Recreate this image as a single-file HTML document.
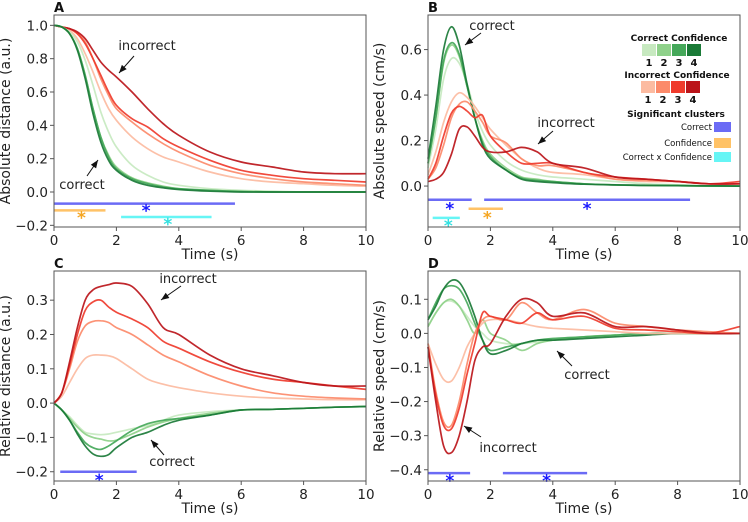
<!DOCTYPE html>
<html><head><meta charset="utf-8"><style>
body{margin:0;background:#fff;}
svg text{font-family:"DejaVu Sans","Liberation Sans",sans-serif;}
</style></head><body>
<svg id="fig" width="748" height="517" viewBox="0 0 748 517" xmlns="http://www.w3.org/2000/svg"></svg>
<script>
const times=[0,0.25,0.5,0.75,1,1.25,1.5,1.75,2,2.5,3,3.5,4,5,6,7,8,9,10];
// Panel A: absolute distance
const aC1=[1,0.99,0.96,0.9,0.79,0.64,0.48,0.36,0.27,0.16,0.1,0.06,0.04,0.02,0.01,0.005,0,0,0];
const aC2=[1,0.99,0.95,0.86,0.7,0.5,0.33,0.22,0.15,0.085,0.055,0.035,0.02,0.01,0.004,0,0,0,0];
const aC3=[1,0.99,0.95,0.86,0.7,0.5,0.33,0.21,0.14,0.08,0.05,0.03,0.02,0.01,0.003,0,0,0,0];
const aC4=[1,0.99,0.95,0.85,0.68,0.47,0.3,0.19,0.13,0.07,0.04,0.025,0.015,0.005,0,0,0,0,0];
const aI1=[1,0.99,0.97,0.92,0.83,0.72,0.6,0.5,0.43,0.33,0.26,0.21,0.18,0.12,0.08,0.06,0.05,0.04,0.035];
const aI2=[1,0.99,0.98,0.95,0.9,0.8,0.68,0.58,0.5,0.42,0.35,0.29,0.24,0.16,0.11,0.08,0.06,0.05,0.04];
const aI3=[1,0.99,0.98,0.95,0.89,0.8,0.7,0.6,0.52,0.44,0.39,0.32,0.27,0.19,0.13,0.1,0.08,0.07,0.06];
const aI4=[1,0.99,0.98,0.96,0.92,0.85,0.78,0.73,0.69,0.6,0.5,0.41,0.34,0.24,0.18,0.15,0.12,0.11,0.11];
// Panel B: absolute speed
const bC1=[0.08,0.25,0.47,0.56,0.54,0.45,0.33,0.24,0.18,0.11,0.07,0.05,0.04,0.03,0.02,0.01,0.005,0,0];
const bC2=[0.1,0.3,0.54,0.62,0.57,0.44,0.3,0.2,0.14,0.08,0.04,0.03,0.02,0.01,0.005,0.003,0.002,0,0];
const bC3=[0.1,0.3,0.55,0.63,0.58,0.44,0.3,0.19,0.13,0.07,0.035,0.025,0.02,0.01,0.005,0.003,0.002,0,0];
const bC4=[0.12,0.35,0.6,0.7,0.62,0.45,0.3,0.18,0.12,0.07,0.03,0.02,0.015,0.008,0.005,0.003,0.002,0.001,0];
const bI1=[0.05,0.15,0.28,0.37,0.41,0.39,0.35,0.3,0.25,0.18,0.12,0.08,0.06,0.05,0.03,0.02,0.02,0.01,0.01];
const bI2=[0.03,0.08,0.18,0.3,0.36,0.37,0.33,0.28,0.22,0.19,0.12,0.09,0.09,0.06,0.03,0.025,0.02,0.01,0.01];
const bI3=[0.03,0.1,0.22,0.32,0.35,0.33,0.3,0.31,0.22,0.15,0.1,0.1,0.1,0.06,0.04,0.03,0.02,0.01,0.02];
const bI4=[0.02,0.03,0.06,0.14,0.25,0.26,0.22,0.17,0.15,0.15,0.17,0.15,0.1,0.08,0.04,0.03,0.02,0.01,0.01];
// Panel C: relative distance
const cC1=[0,-0.02,-0.04,-0.065,-0.085,-0.09,-0.092,-0.09,-0.085,-0.075,-0.065,-0.05,-0.035,-0.025,-0.02,-0.018,-0.015,-0.012,-0.01];
const cC2=[0,-0.02,-0.045,-0.07,-0.09,-0.1,-0.105,-0.11,-0.108,-0.09,-0.07,-0.055,-0.045,-0.03,-0.02,-0.018,-0.015,-0.012,-0.01];
const cC3=[0,-0.02,-0.05,-0.085,-0.115,-0.13,-0.135,-0.125,-0.11,-0.08,-0.06,-0.05,-0.045,-0.035,-0.02,-0.018,-0.015,-0.012,-0.01];
const cC4=[0,-0.02,-0.05,-0.09,-0.125,-0.148,-0.155,-0.15,-0.13,-0.1,-0.085,-0.065,-0.05,-0.035,-0.02,-0.018,-0.015,-0.012,-0.01];
const cI1=[0,0.02,0.06,0.1,0.13,0.14,0.14,0.138,0.13,0.1,0.07,0.055,0.045,0.03,0.02,0.015,0.012,0.01,0.01];
const cI2=[0,0.03,0.1,0.18,0.225,0.238,0.24,0.235,0.22,0.2,0.17,0.14,0.12,0.08,0.05,0.03,0.02,0.015,0.012];
const cI3=[0,0.03,0.11,0.2,0.27,0.295,0.3,0.28,0.265,0.245,0.22,0.18,0.16,0.12,0.09,0.07,0.06,0.05,0.04];
const cI4=[0,0.03,0.12,0.22,0.3,0.33,0.34,0.345,0.35,0.34,0.29,0.22,0.2,0.14,0.1,0.08,0.06,0.05,0.05];
// Panel D: relative speed
const dC1=[0.02,0.06,0.09,0.095,0.08,0.05,0.02,0,-0.02,-0.03,-0.03,-0.025,-0.02,-0.01,-0.005,0,0,0,0];
const dC2=[0.02,0.06,0.09,0.1,0.08,0.04,0,0.04,0,-0.02,-0.05,-0.03,-0.02,-0.01,-0.005,0,0,0,0];
const dC3=[0.04,0.09,0.13,0.14,0.13,0.09,0.03,-0.02,-0.05,-0.04,-0.03,-0.02,-0.015,-0.01,-0.005,0,0,0,0];
const dC4=[0.04,0.08,0.13,0.155,0.15,0.11,0.05,-0.02,-0.06,-0.05,-0.03,-0.02,-0.02,-0.015,-0.01,-0.005,0,0,0];
const dI1=[-0.03,-0.09,-0.135,-0.14,-0.1,-0.04,0,0.03,0.04,0.04,0.03,0.02,0.015,0.01,0.005,0,0,0,0];
const dI2=[-0.03,-0.17,-0.26,-0.27,-0.2,-0.09,0,0.04,0.05,0.04,0.09,0.06,0.04,0.07,0.03,0.02,0.01,0.005,0];
const dI3=[-0.04,-0.18,-0.27,-0.28,-0.22,-0.12,-0.03,0.06,0.05,0.04,0.03,0.06,0.04,0.05,0.015,0.01,0.005,0,0.02];
const dI4=[-0.04,-0.2,-0.33,-0.35,-0.3,-0.2,-0.08,-0.04,-0.03,0.05,0.1,0.09,0.05,0.06,0.02,0.02,0.01,0,0];
const xTicks=[0,2,4,6,8,10];
const greens=['#c7e9c0','#8fd18a','#45a85a','#1a7a37'];
const reds=['#fcbba1','#fc8a6a','#ef3b2c','#bb151a'];

const NS='http://www.w3.org/2000/svg';
const svg=document.getElementById('fig');
function el(tag,attrs,parent,txt){const e=document.createElementNS(NS,tag);for(const k in attrs)e.setAttribute(k,attrs[k]);if(txt!==undefined)e.textContent=txt;(parent||svg).appendChild(e);return e;}
function fmt(v,d){const s=Math.abs(v).toFixed(d);return (v<-1e-9?'\u2212':'')+s;}
function path(xs,ys,sx,sy){const p=xs.map((x,i)=>[sx(x),sy(ys[i])]);let d='M'+p[0][0].toFixed(1)+','+p[0][1].toFixed(1);
 for(let i=0;i<p.length-1;i++){const p0=p[i-1]||p[i],p1=p[i],p2=p[i+1],p3=p[i+2]||p2;
 const c1=[p1[0]+(p2[0]-p0[0])/6,p1[1]+(p2[1]-p0[1])/6],c2=[p2[0]-(p3[0]-p1[0])/6,p2[1]-(p3[1]-p1[1])/6];
 d+='C'+c1.map(v=>v.toFixed(1)).join(',')+' '+c2.map(v=>v.toFixed(1)).join(',')+' '+p2[0].toFixed(1)+','+p2[1].toFixed(1);}return d;}

function panel(o){
 const g=el('g',{});
 
 
 const sx=v=>o.x0+(v-0)/10*(o.x1-o.x0);
 const sy=v=>o.y1-(v-o.ymin)/(o.ymax-o.ymin)*(o.y1-o.y0);
 o.series.forEach((s,i)=>{const p=el('path',{d:path(times,s.v,sx,sy),fill:'none',stroke:s.c,'stroke-width':1.7,'stroke-opacity':0.92,'stroke-linejoin':'round'},g);
  
  });
 o.bars.forEach(b=>{const l=el('line',{x1:sx(b.a),x2:sx(b.b),y1:sy(b.y),y2:sy(b.y),stroke:b.c,'stroke-width':2.5},g);
  
  });
 o.stars.forEach(s=>{const t=el('text',{x:sx(s.x),y:sy(s.y)+8,'text-anchor':'middle','font-size':17,'font-weight':'bold',fill:s.c},g,'*');
  
  });
 const fr=el('rect',{x:o.x0,y:o.y0,width:o.x1-o.x0,height:o.y1-o.y0,fill:'none',stroke:'#555','stroke-width':1},g);
 
 
 xTicks.forEach(v=>{el('line',{x1:sx(v),x2:sx(v),y1:o.y1,y2:o.y1+4,stroke:'#555'},g);
  const t=el('text',{x:sx(v),y:o.y1+18,'text-anchor':'middle','font-size':13.5,fill:'#222'},g,String(v));
  
  });
 o.yt.forEach(v=>{el('line',{x1:o.x0-4,x2:o.x0,y1:sy(v),y2:sy(v),stroke:'#555'},g);
  const t=el('text',{x:o.x0-6,y:sy(v)+5,'text-anchor':'end','font-size':13.5,fill:'#222'},g,fmt(v,o.dec));
  
  });
 const xl=el('text',{x:(o.x0+o.x1)/2,y:o.y1+32,'text-anchor':'middle','font-size':14,fill:'#222'},g,'Time (s)');
 
 
 const yl=el('text',{x:0,y:0,'text-anchor':'middle','font-size':14,fill:'#222',transform:`translate(${o.x0-44},${(o.y0+o.y1)/2}) rotate(-90)`},g,o.ylab);
 
 
 const lt=el('text',{x:o.x0,y:o.y0-3,'font-size':13,'font-weight':'bold',fill:'#111'},g,o.letter);
 
 
 o.ann.forEach(a=>{const t=el('text',{x:a.tx,y:a.ty+4,'text-anchor':'middle','font-size':13,fill:'#222'},g,a.t);
  
  
  arrow(g,a.ax,a.ay,a.hx,a.hy);});
}
function arrow(g,x1,y1,x2,y2){el('line',{x1,y1,x2,y2,stroke:'#111','stroke-width':1},g);
 const ang=Math.atan2(y2-y1,x2-x1),L=8,W=3.2;
 const bx=x2-L*Math.cos(ang),by=y2-L*Math.sin(ang);
 const p=`${x2},${y2} ${bx+W*Math.sin(ang)},${by-W*Math.cos(ang)} ${bx-W*Math.sin(ang)},${by+W*Math.cos(ang)}`;
 const a=el('polygon',{points:p,fill:'#111'},g);
 
 }
function ser(arrs){return arrs.map((v,i)=>({v,c:i<4?greens[i]:reds[i-4],n:(i<4?'correct-conf-':'incorrect-conf-')+((i%4)+1)}));}
const BL='#6b6bf5',OR='#ffc266',CY='#66f5f5',SB='#1a1aff',SO='#f5a623',SC='#33e0e0';
panel({name:'panel-a',letter:'A',x0:54,x1:366,y0:15,y1:227,ymin:-0.21,ymax:1.062,yt:[-0.2,0,0.2,0.4,0.6,0.8,1.0],dec:1,ylab:'Absolute distance (a.u.)',
 series:ser([aI1,aI2,aI3,aI4,aC1,aC2,aC3,aC4]).map((s,i)=>({v:s.v,c:i<4?reds[i]:greens[i-4],n:i<4?'incorrect-conf-'+(i+1):'correct-conf-'+(i-3)})),
 bars:[{a:0,b:5.8,y:-0.07,c:BL},{a:0,b:1.65,y:-0.11,c:OR},{a:2.15,b:5.05,y:-0.15,c:CY}],
 stars:[{x:2.95,y:-0.1,c:SB},{x:0.88,y:-0.14,c:SO},{x:3.65,y:-0.18,c:SC}],
 ann:[{t:'incorrect',tx:147,ty:46,ax:134,ay:56,hx:119,hy:73},{t:'correct',tx:82,ty:185,ax:87,ay:176,hx:98,hy:160}]});
panel({name:'panel-b',letter:'B',x0:428,x1:740,y0:15,y1:227,ymin:-0.18,ymax:0.752,yt:[0,0.2,0.4,0.6],dec:1,ylab:'Absolute speed (cm/s)',
 series:ser([bC1,bC2,bC3,bC4,bI1,bI2,bI3,bI4]),
 bars:[{a:0,b:1.4,y:-0.06,c:BL},{a:1.8,b:8.4,y:-0.06,c:BL},{a:1.3,b:2.4,y:-0.1,c:OR},{a:0.15,b:1.02,y:-0.14,c:CY}],
 stars:[{x:0.7,y:-0.09,c:SB},{x:5.1,y:-0.09,c:SB},{x:1.9,y:-0.13,c:SO},{x:0.65,y:-0.165,c:SC}],
 ann:[{t:'correct',tx:492,ty:26,ax:481,ay:33,hx:465,hy:45},{t:'incorrect',tx:566,ty:123,ax:553,ay:131,hx:538,hy:144}]});
panel({name:'panel-c',letter:'C',x0:54,x1:366,y0:271,y1:481,ymin:-0.227,ymax:0.385,yt:[-0.2,-0.1,0,0.1,0.2,0.3],dec:1,ylab:'Relative distance (a.u.)',
 series:ser([cC1,cC2,cC3,cC4,cI1,cI2,cI3,cI4]),
 bars:[{a:0.2,b:2.65,y:-0.2,c:BL}],stars:[{x:1.45,y:-0.218,c:SB}],
 ann:[{t:'incorrect',tx:188,ty:279,ax:181,ay:286,hx:161,hy:300},{t:'correct',tx:172,ty:462,ax:164,ay:455,hx:151,hy:440}]});
panel({name:'panel-d',letter:'D',x0:428,x1:740,y0:271,y1:481,ymin:-0.433,ymax:0.183,yt:[-0.4,-0.3,-0.2,-0.1,0,0.1],dec:1,ylab:'Relative speed (cm/s)',
 series:ser([dC1,dC2,dC3,dC4,dI1,dI2,dI3,dI4]),
 bars:[{a:0,b:1.35,y:-0.41,c:BL},{a:2.4,b:5.1,y:-0.41,c:BL}],stars:[{x:0.7,y:-0.425,c:SB},{x:3.8,y:-0.425,c:SB}],
 ann:[{t:'correct',tx:587,ty:375,ax:572,ay:366,hx:557,hy:351},{t:'incorrect',tx:508,ty:448,ax:481,ay:437,hx:464,hy:426}]});
// Legend
const lg=el('g',{});


function lt(x,y,t,anchor,size,bold){const e=el('text',{x,y,'text-anchor':anchor,'font-size':size,'font-weight':bold?'bold':'normal',fill:'#111'},lg,t);
 
 }
lt(679,41,'Correct Confidence','middle',9,true);
lt(677,78,'Incorrect Confidence','middle',9,true);
for(let i=0;i<4;i++){
 const r1=el('rect',{x:642+i*15,y:44,width:14,height:12,fill:greens[i]},lg);
 
 
 lt(649+i*15,66,String(i+1),'middle',10,true);
 const r2=el('rect',{x:641+i*15,y:81,width:14,height:12,fill:reds[i]},lg);
 
 
 lt(648+i*15,103,String(i+1),'middle',10,true);
}
lt(676,117,'Significant clusters','middle',9,true);
[['Correct',BL,127],['Confidence',OR,143],['Correct x Confidence',CY,157]].forEach(([t,c,y])=>{
 lt(712,y+3,t,'end',8.5,false);
 const r=el('rect',{x:714,y:y-5,width:17,height:10,fill:c},lg);
 
 
});
</script>
</body></html>
